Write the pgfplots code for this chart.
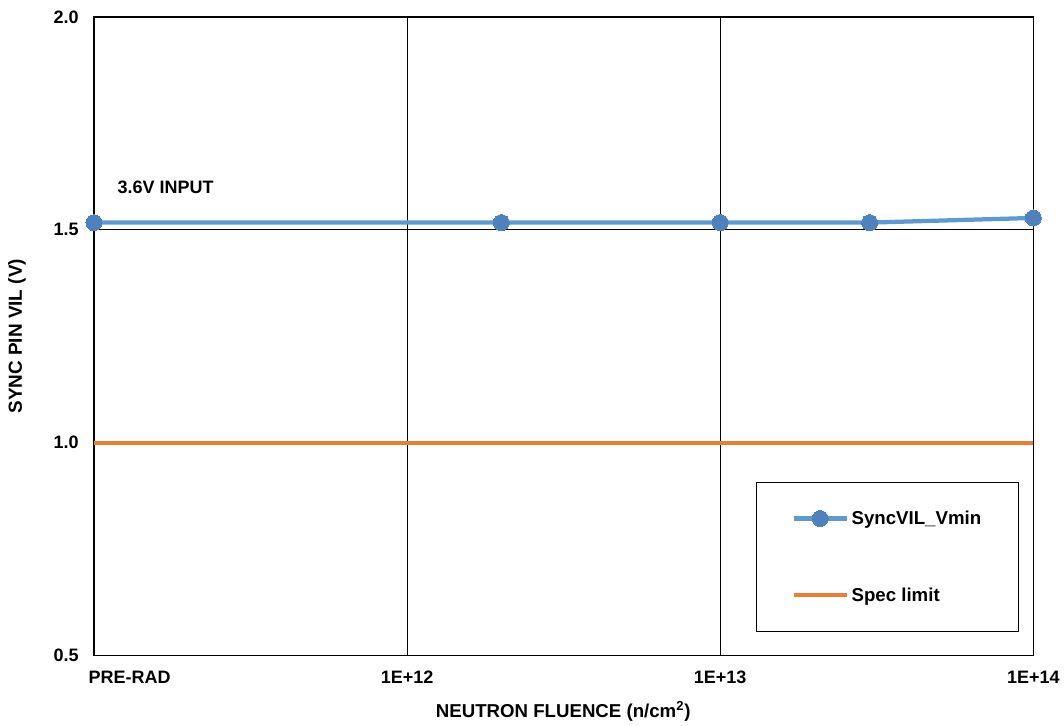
\documentclass[border=0pt]{standalone}
\usepackage{pgfplots}
\pgfplotsset{compat=1.18}
\usepackage{fontspec}
\setmainfont{Liberation Sans}
\definecolor{bline}{HTML}{5B9BD5}
\definecolor{bmark}{HTML}{4F81BD}
\definecolor{oline}{HTML}{ED7D31}
\begin{document}
\begin{tikzpicture}
\begin{axis}[
  name=ax,
  scale only axis,
  width=705pt, height=479.25pt,
  xmode=log,
  xmin=1e11, xmax=1e14,
  ymin=0.5, ymax=2.0,
  xtick={1e11,1e12,1e13,1e14},
  xticklabels={\makebox[0pt][l]{\hspace{-4pt}PRE-RAD},1E+12,1E+13,1E+14},
  ytick={0.5,1.0,1.5,2.0},
  yticklabel style={/pgf/number format/fixed,/pgf/number format/fixed zerofill,/pgf/number format/precision=1,/pgf/number format/assume math mode=true, xshift=-8pt},
  minor tick num=0,
  major tick length=0pt,
  minor tick length=0pt,
  log ticks with fixed point=false,
  grid=major,
  major grid style={black, line width=0.75pt},
  axis line style={black, line width=1pt},
  tick label style={font=\fontsize{13.5}{15}\selectfont\bfseries},
  xticklabel style={yshift=-8pt},
  xlabel={NEUTRON FLUENCE (n/cm\textsuperscript{2})},
  ylabel={SYNC PIN VIL (V)},
  every axis x label/.style={at={(axis description cs:0.4995,-0.0876)}, anchor=center, font=\fontsize{14}{16}\selectfont\bfseries},
  every axis y label/.style={at={(axis description cs:-0.0819,0.5)}, anchor=center, rotate=90, font=\fontsize{14.2}{16}\selectfont\bfseries},
  legend cell align=left,
  legend image code/.code={\draw[mark repeat=2,mark phase=2,#1] plot coordinates {(0pt,0pt) (20pt,0pt) (40pt,0pt)};},
  legend style={at={(axis description cs:0.705,0.0376)}, anchor=south west,
    draw=black, line width=0.75pt, inner xsep=26pt, inner ysep=19pt, row sep=42pt,
    font=\fontsize{14}{16}\selectfont\bfseries},
  clip=false,
]
\addplot[color=bline, line width=3.2pt, mark=*, mark size=6pt, mark options={fill=bmark, draw=bmark, line width=0pt}]
  coordinates {(1e11,1.517) (2e12,1.517) (1e13,1.517) (3e13,1.517) (1e14,1.528)};
\addlegendentry{SyncVIL\_Vmin}
\addplot[color=oline, line width=3pt, mark=none]
  coordinates {(1e11,1.0) (1e14,1.0)};
\addlegendentry{Spec limit}
\node[anchor=west, font=\fontsize{13.5}{15}\selectfont\bfseries] at (axis cs:1.15e11,1.6) {3.6V INPUT};
\end{axis}
\path (ax.south west) ++(-70.5pt,-51.75pt) (ax.north east) ++(22.5pt,12.75pt);
\end{tikzpicture}
\end{document}
